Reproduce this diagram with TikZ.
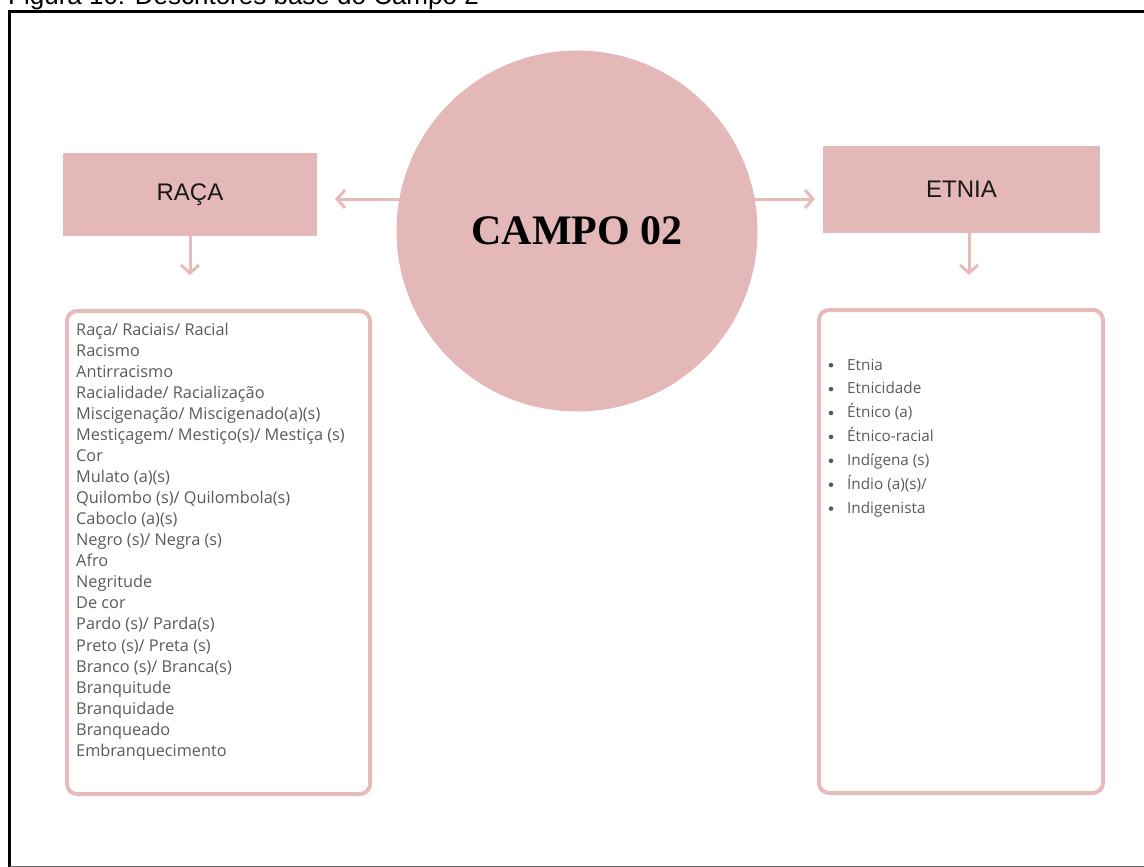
\documentclass[tikz,border=0pt]{standalone}
\usepackage{fontspec}
\setmainfont{Liberation Sans}
\newfontfamily\listfont{Open Sans}
\newfontfamily\titlefont{Liberation Serif}
\usetikzlibrary{arrows.meta,backgrounds}

\definecolor{rose}{HTML}{E4B7B8}
\definecolor{roseline}{HTML}{E8BBBB}
\definecolor{listgray}{HTML}{5A5A5A}

\tikzset{
  headbox/.style={rectangle, fill=rose, inner sep=0pt, text=black!90,
    font=\fontsize{24}{28}\selectfont},
  listbox/.style={rectangle, draw=roseline, line width=4pt, rounded corners=10pt,
    inner sep=0pt},
  listtext/.style={anchor=base west, inner sep=0pt, text=listgray},
  link/.style={draw=roseline, line width=3pt,
    -{Straight Barb[length=8pt, width=18pt, line width=3pt]}},
}

\begin{document}
\begin{tikzpicture}[x=1pt, y=-1pt]
\useasboundingbox (0,0) rectangle (1144,867);
\clip (0,0) rectangle (1144,867);

% caption and frame
\node[anchor=base west, inner sep=0pt, font=\fontsize{26}{30}\selectfont] (caption)
  at (8,4.5) {Figura 10: Descritores base do Campo 2};
\draw[line width=3pt] (9.5,867) -- (9.5,11.2) -- (1144,11.2);
\draw[black!60, line width=1pt] (9.5,866.5) -- (1144,866.5);

% central circle
\node[circle, fill=rose, minimum size=361pt, inner sep=0pt,
  font=\titlefont\bfseries\fontsize{42}{48}\selectfont] (campo) at (577,231) {CAMPO 02};

% heading boxes
\node[headbox, minimum width=254pt, minimum height=83pt] (raca) at (190,194.5) {RAÇA};
\node[headbox, minimum width=277pt, minimum height=87pt] (etnia) at (961.5,189.5) {ETNIA};

% arrow end points
\coordinate (tipL) at (335,199);
\coordinate (tipR) at (815,199);
\coordinate (tipDL) at (190,275);
\coordinate (tipDR) at (969,275);

% the horizontal links start under the circle, which hides their inner ends
\begin{scope}[on background layer]
\draw[link] (campo.center |- tipL) -- (tipL);
\draw[link] (campo.center |- tipR) -- (tipR);
\end{scope}
\draw[link] (raca.south) -- (tipDL);
\draw[link] (etnia.south -| tipDR) -- (tipDR);

% list boxes
\node[listbox, minimum width=303pt, minimum height=483pt] (racabox) at (218.5,552.5) {};
\node[listbox, minimum width=284pt, minimum height=483pt] (etniabox) at (961,551.5) {};

\node[listtext, font=\listfont\fontsize{16.3}{21.07}\selectfont] (racalist) at (76,335) {%
\begin{tabular}[t]{@{}l@{}}
Raça/ Raciais/ Racial\\
Racismo\\
Antirracismo\\
Racialidade/ Racialização\\
Miscigenação/ Miscigenado(a)(s)\\
Mestiçagem/ Mestiço(s)/ Mestiça (s)\\
Cor\\
Mulato (a)(s)\\
Quilombo (s)/ Quilombola(s)\\
Caboclo (a)(s)\\
Negro (s)/ Negra (s)\\
Afro\\
Negritude\\
De cor\\
Pardo (s)/ Parda(s)\\
Preto (s)/ Preta (s)\\
Branco (s)/ Branca(s)\\
Branquitude\\
Branquidade\\
Branqueado\\
Embranquecimento
\end{tabular}};

\node[listtext, font=\listfont\fontsize{15.3}{23.9}\selectfont] (etnialist) at (847,370) {%
\begin{tabular}[t]{@{}l@{}}
Etnia\\
Etnicidade\\
Étnico (a)\\
Étnico-racial\\
Indígena (s)\\
Índio (a)(s)/\\
Indigenista
\end{tabular}};

% bullet dots of the second list, one per line
\foreach \i in {0,...,6}
  \fill[listgray] ([xshift=-16pt, yshift=4.8pt]etnialist.base west) ++(0,\i*23.9) circle (2.3pt);
\end{tikzpicture}
\end{document}
